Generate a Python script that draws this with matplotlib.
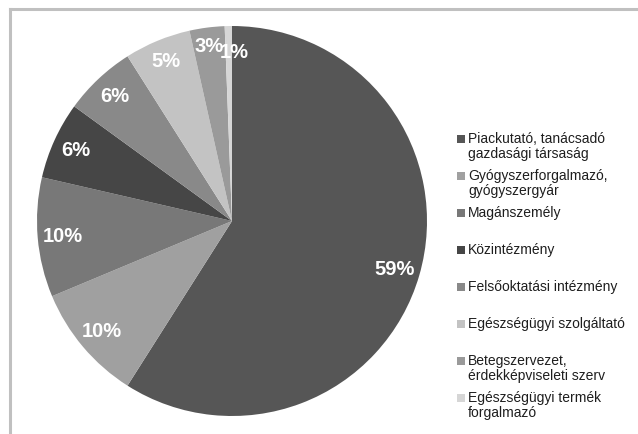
import matplotlib
matplotlib.use('Agg')
import matplotlib.pyplot as plt
from matplotlib.lines import Line2D
from matplotlib.patches import Rectangle
import numpy as np

# Data (share of respondents, %)
categories = ['Piackutató, tanácsadó\ngazdasági társaság',
              'Gyógyszerforgalmazó,\ngyógyszergyár',
              'Magánszemély',
              'Közintézmény',
              'Felsőoktatási intézmény',
              'Egészségügyi szolgáltató',
              'Betegszervezet,\nérdekképviseleti szerv',
              'Egészségügyi termék\nforgalmazó']
shares = [59.0, 9.7, 9.9, 6.4, 6.0, 5.5, 2.9, 0.6]
pct_labels = ['59%', '10%', '10%', '6%', '6%', '5%', '3%', '1%']
colors = ['#565656', '#a0a0a0', '#787878', '#464646',
          '#898989', '#c3c3c3', '#9a9a9a', '#d6d6d6']

W, H = 638, 435
plt.rcParams['font.family'] = ['Liberation Sans', 'DejaVu Sans']

fig = plt.figure(figsize=(W / 100, H / 100), dpi=100)
fig.patch.set_facecolor('white')

# pie sits in a square box, centre approx (232, 222) px, radius 195 px
cx, cy, r = 232, 222, 195
ax = fig.add_axes([(cx - r) / W, (H - cy - r) / H, 2 * r / W, 2 * r / H])
wedges, _ = ax.pie(shares, colors=colors, startangle=90, counterclock=False,
                   radius=1.0, wedgeprops=dict(linewidth=0))
ax.set_xlim(-1, 1)
ax.set_ylim(-1, 1)
ax.axis('off')

# label distance per slice (tiny slices sit a bit further out / shifted)
dists = [0.87, 0.87, 0.87, 0.88, 0.88, 0.89, 0.91, 0.87]
for w, lab, d in zip(wedges, pct_labels, dists):
    mid = np.deg2rad((w.theta1 + w.theta2) / 2)
    x, y = d * np.cos(mid), d * np.sin(mid)
    if lab == '1%':
        x += 0.03
    ax.text(x, y, lab, ha='center', va='center',
            color='white', fontsize=14.5, fontweight='bold')

# legend drawn by hand so the swatch lines up with the first text line
leg_x = 457
leg_y0 = 136
step = 37
sq = 8
for i, (w, name) in enumerate(zip(wedges, categories)):
    top = leg_y0 + i * step
    fig.patches.append(Rectangle((leg_x / W, (H - top - sq) / H), sq / W, sq / H,
                                 transform=fig.transFigure,
                                 facecolor=w.get_facecolor(), edgecolor='none'))
    fig.text((leg_x + 11) / W, (H - top + 4) / H, name, ha='left', va='top',
             fontsize=10, color='#1e1e1e', linespacing=1.12)

# grey frame along top and left edge
frame = '#c0c0c0'
fig.lines.append(Line2D([10 / W, 1], [1 - 10 / H, 1 - 10 / H],
                        transform=fig.transFigure, color=frame, linewidth=2.2))
fig.lines.append(Line2D([10 / W, 10 / W], [0, 1 - 10 / H],
                        transform=fig.transFigure, color=frame, linewidth=2.2))

fig.savefig('out.png', dpi=100)
